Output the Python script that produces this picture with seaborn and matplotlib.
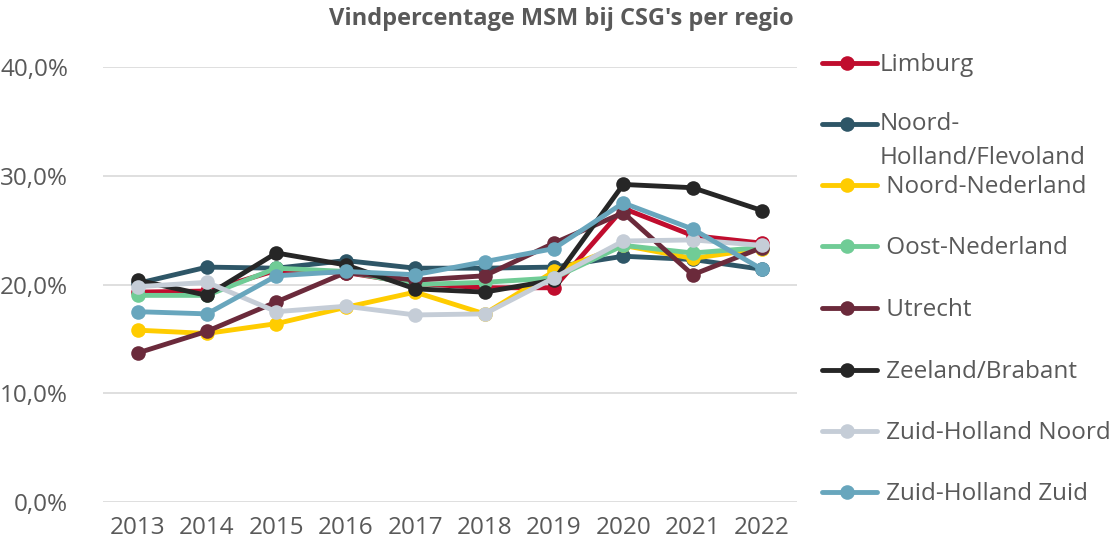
import pandas as pd
import numpy as np
import matplotlib.pyplot as plt
import seaborn as sns
from matplotlib.lines import Line2D
from matplotlib.ticker import FuncFormatter

years = [2013, 2014, 2015, 2016, 2017, 2018, 2019, 2020, 2021, 2022]

regions = ["Limburg", "Noord-Holland/Flevoland", "Noord-Nederland", "Oost-Nederland",
           "Utrecht", "Zeeland/Brabant", "Zuid-Holland Noord", "Zuid-Holland Zuid"]

limburg = [19.3, 19.4, 21.3, 21.1, 20.1, 19.7, 19.7, 27.0, 24.5, 23.8]
noord_holland = [20.1, 21.6, 21.5, 22.2, 21.5, 21.5, 21.6, 22.6, 22.3, 21.4]
noord_nederland = [15.8, 15.5, 16.4, 17.9, 19.3, 17.3, 21.2, 23.6, 22.4, 23.3]
oost_nederland = [19.0, 19.0, 21.5, 21.2, 20.0, 20.2, 20.6, 23.6, 22.9, 23.4]
utrecht = [13.7, 15.7, 18.4, 21.1, 20.4, 20.8, 23.8, 26.6, 20.9, 23.4]
zeeland_brabant = [20.4, 19.0, 22.9, 21.8, 19.6, 19.3, 20.4, 29.2, 28.9, 26.8]
zh_noord = [19.8, 20.2, 17.5, 18.0, 17.2, 17.3, 20.6, 24.0, 24.1, 23.6]
zh_zuid = [17.5, 17.3, 20.8, 21.2, 20.9, 22.1, 23.3, 27.5, 25.1, 21.4]

colors = ["#C00D2E", "#2E5667", "#FFCC00", "#70CC96",
          "#6B2A3B", "#262626", "#C5CDD7", "#68A6BD"]

legend_labels = ["Limburg", "Noord-\nHolland/Flevoland", " Noord-Nederland", " Oost-Nederland",
                 " Utrecht", " Zeeland/Brabant", " Zuid-Holland Noord", " Zuid-Holland Zuid"]

series = [limburg, noord_holland, noord_nederland, oost_nederland,
          utrecht, zeeland_brabant, zh_noord, zh_zuid]

rows = []
for reg, vals in zip(regions, series):
    for y, v in zip(years, vals):
        rows.append({"jaar": y, "pct": v / 100, "regio": reg})
df = pd.DataFrame(rows)

sns.set_style("white")
plt.rcParams['font.family'] = ['Open Sans', 'DejaVu Sans']
grey = "#595959"

fig = plt.figure(figsize=(11.19, 5.52), dpi=100)
ax = fig.add_axes([0.092, 0.0906, 0.62, 0.788])

sns.lineplot(data=df, x="jaar", y="pct", hue="regio", hue_order=regions,
             palette=dict(zip(regions, colors)), marker="o", markersize=10.5,
             markeredgewidth=0, linewidth=3.5, legend=False, ax=ax,
             solid_capstyle="round", solid_joinstyle="round")

ax.set_xlim(2012.5, 2022.5)
ax.set_ylim(0, 0.4)
ax.set_yticks([0, 0.1, 0.2, 0.3, 0.4])
ax.yaxis.set_major_formatter(FuncFormatter(lambda v, p: f"{v*100:.1f}%".replace(".", ",")))
ax.set_xticks(years)
ax.tick_params(axis="both", labelsize=17.5, colors=grey, length=0)
ax.tick_params(axis="y", pad=25)
ax.tick_params(axis="x", pad=10)
ax.grid(axis="y", color="#d9d9d9", linewidth=1.2)
ax.set_axisbelow(True)
for s in ax.spines.values():
    s.set_visible(False)
ax.set_xlabel("")
ax.set_ylabel("")

fig.text(0.502, 0.966, "Vindpercentage MSM bij CSG's per regio", ha="center", va="center",
         fontsize=17, fontweight="bold", color=grey)

# legend built by hand so the two-line label lines up like the original
leg_y = [63, 124, 185, 246, 308, 370, 431, 492]
for lab, col, yy in zip(legend_labels, colors, leg_y):
    yf = 1 - yy / 552
    fig.add_artist(Line2D([822 / 1119, 877 / 1119], [yf, yf], color=col, linewidth=3.5,
                          solid_capstyle="round", transform=fig.transFigure))
    fig.add_artist(Line2D([847 / 1119], [yf], color=col, marker="o", markersize=10.5,
                          markeredgewidth=0, transform=fig.transFigure))
    if "\n" in lab:
        fig.text(880 / 1119, yf + 12 / 552, lab, ha="left", va="top",
                 fontsize=17.5, color=grey, linespacing=1.55)
    else:
        fig.text(880 / 1119, yf - 2 / 552, lab, ha="left", va="center", fontsize=17.5, color=grey)

fig.savefig("out.png", dpi=100)
